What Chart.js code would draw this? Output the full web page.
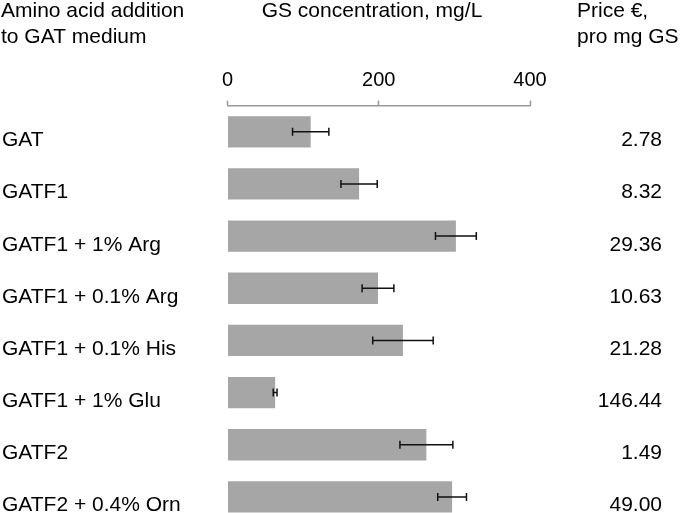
<!DOCTYPE html>
<html>
<head>
<meta charset="utf-8">
<script src="https://cdn.jsdelivr.net/npm/chart.js@4"></script>
<style>
    html, body { margin: 0; padding: 0; background: #fff; }
    #clip { width: 680px; height: 513px; overflow: hidden; }
    #wrap { width: 680px; height: 523px; position: relative; }
</style>
</head>
<body>
<div id="clip"><div id="wrap"><canvas id="chart"></canvas></div></div>
<script>
// データ
const categories = [
    'GAT',
    'GATF1',
    'GATF1 + 1% Arg',
    'GATF1 + 0.1% Arg',
    'GATF1 + 0.1% His',
    'GATF1 + 1% Glu',
    'GATF2',
    'GATF2 + 0.4% Orn',
];
const concentrations = [110, 174, 302, 199, 232, 63, 263, 297];
const errors = [24, 24, 27, 21, 40, 2.5, 35, 19];
const prices = ['2.78', '8.32', '29.36', '10.63', '21.28', '146.44', '1.49', '49.00'];
const xTicks = [0, 200, 400];

const FONT = "'Liberation Sans', Arial, Helvetica, sans-serif";

// エラーバーと左右のラベル・見出しを描画するプラグイン
const annotations = {
    id: 'annotations',
    afterDatasetsDraw: (chart) => {
        const ctx = chart.ctx;
        const xScale = chart.scales.x;
        const meta = chart.getDatasetMeta(0);

        ctx.save();
        // エラーバー
        ctx.strokeStyle = '#111';
        ctx.lineWidth = 1.5;
        meta.data.forEach((bar, i) => {
            const lo = xScale.getPixelForValue(concentrations[i] - errors[i]);
            const hi = xScale.getPixelForValue(concentrations[i] + errors[i]);
            const y = bar.y;
            ctx.beginPath();
            ctx.moveTo(lo, y);
            ctx.lineTo(hi, y);
            ctx.moveTo(lo, y - 4);
            ctx.lineTo(lo, y + 4);
            ctx.moveTo(hi, y - 4);
            ctx.lineTo(hi, y + 4);
            ctx.stroke();
        });

        // 行ラベル（左）と価格（右）
        ctx.fillStyle = '#000';
        ctx.font = `21px ${FONT}`;
        ctx.textBaseline = 'alphabetic';
        meta.data.forEach((bar, i) => {
            ctx.textAlign = 'left';
            ctx.fillText(categories[i], 2, bar.y + 14.5);
            ctx.textAlign = 'right';
            ctx.fillText(prices[i], 662, bar.y + 14.5);
        });

        // 見出し
        ctx.textAlign = 'left';
        ctx.fillText('Amino acid addition', 1, 17);
        ctx.fillText('to GAT medium', 1, 42.5);
        ctx.textAlign = 'center';
        ctx.fillText('GS concentration, mg/L', 372, 17);
        ctx.textAlign = 'left';
        ctx.fillText('Price €,', 577, 17);
        ctx.fillText('pro mg GS', 577, 42.5);
        ctx.restore();
    },
};

new Chart(document.querySelector('#chart').getContext('2d'), {
    type: 'bar',
    data: {
        labels: categories,
        datasets: [
            {
                data: concentrations,
                backgroundColor: '#a6a6a6',
                borderWidth: 0,
                barPercentage: 0.6,
                categoryPercentage: 1,
            },
        ],
    },
    options: {
        indexAxis: 'y',
        responsive: true,
        maintainAspectRatio: false,
        animation: false,
        layout: { padding: { left: 227.5, right: 150, top: 0, bottom: 0 } },
        plugins: {
            legend: { display: false },
            tooltip: { enabled: false },
        },
        scales: {
            x: {
                position: 'top',
                min: xTicks[0],
                max: xTicks[xTicks.length - 1],
                afterFit: (scale) => { scale.height = 105.7; },
                afterBuildTicks: (scale) => { scale.ticks = xTicks.map((v) => ({ value: v })); },
                ticks: {
                    color: '#000',
                    padding: 8,
                    font: { family: FONT, size: 20 },
                },
                grid: {
                    drawOnChartArea: false,
                    drawTicks: true,
                    tickLength: 5,
                    tickWidth: 1.5,
                    color: '#999',
                },
                border: { color: '#999', width: 1.5 },
            },
            y: { display: false },
        },
    },
    plugins: [annotations],
});
</script>
</body>
</html>
